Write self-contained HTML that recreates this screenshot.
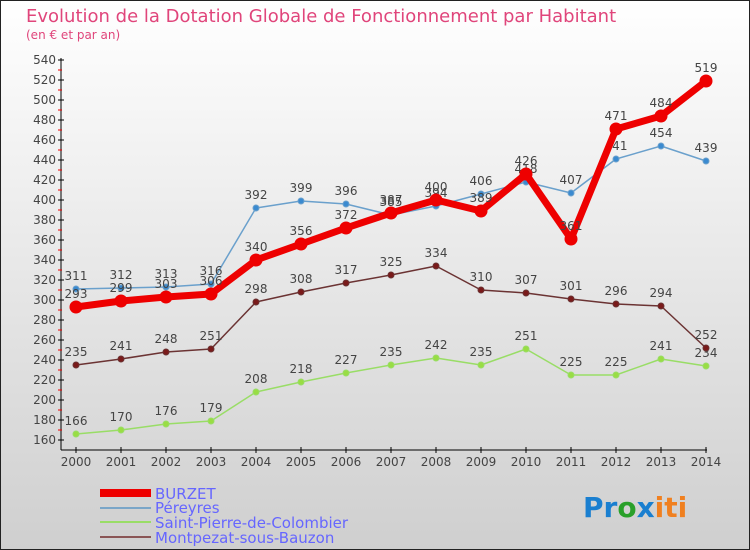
<!DOCTYPE html>
<html><head><meta charset="utf-8"><style>
body{margin:0}
svg{display:block;font-family:"DejaVu Sans","Liberation Sans",sans-serif}
</style></head><body>
<svg id="c" width="750" height="550" viewBox="0 0 750 550" xmlns="http://www.w3.org/2000/svg">
<defs><linearGradient id="bg" x1="0" y1="0" x2="0" y2="1"><stop offset="0" stop-color="#ffffff"/><stop offset="1" stop-color="#cfcfcf"/></linearGradient></defs>
<rect x="0.5" y="0.5" width="749" height="549" fill="url(#bg)" stroke="#222"/>
<text x="26" y="22" font-size="18" fill="#e0457b">Evolution de la Dotation Globale de Fonctionnement par Habitant</text>
<text x="26" y="39" font-size="12" fill="#e0457b">(en € et par an)</text>
<g id="axes"></g><g id="series"></g>
<g font-size="15" fill="#6666ff">
<rect x="100" y="489" width="51" height="8" fill="#ee0000"/>
<text x="155" y="499">BURZET</text>
<line x1="100" y1="508" x2="151" y2="508" stroke="#7aa6c8" stroke-width="2"/>
<text x="155" y="513">Péreyres</text>
<line x1="100" y1="522" x2="151" y2="522" stroke="#99dd66" stroke-width="2"/>
<text x="155" y="528">Saint-Pierre-de-Colombier</text>
<line x1="100" y1="537" x2="151" y2="537" stroke="#8a5555" stroke-width="2"/>
<text x="155" y="543">Montpezat-sous-Bauzon</text>
</g>
<text x="583" y="517" font-size="28" font-weight="bold"><tspan fill="#1a7fd0">Pr</tspan><tspan fill="#2aa02a">o</tspan><tspan fill="#1a7fd0">x</tspan><tspan fill="#f08020">iti</tspan></text>
</svg>
<script>
const years=[2000,2001,2002,2003,2004,2005,2006,2007,2008,2009,2010,2011,2012,2013,2014];
const yTicks=[160,180,200,220,240,260,280,300,320,340,360,380,400,420,440,460,480,500,520,540];
const burzet=[293,299,303,306,340,356,372,387,400,389,426,361,471,484,519];
const pereyres=[311,312,313,316,392,399,396,385,394,406,418,407,441,454,439];
const saintPierre=[166,170,176,179,208,218,227,235,242,235,251,225,225,241,234];
const montpezat=[235,241,248,251,298,308,317,325,334,310,307,301,296,294,252];
const NS="http://www.w3.org/2000/svg";
const X=i=>76+i*(706-76)/(years.length-1);
const Y=v=>440-(v-160)*(380/380);
function mk(t,a,p){const e=document.createElementNS(NS,t);for(const k in a)e.setAttribute(k,a[k]);p.appendChild(e);return e;}
const ax=document.getElementById('axes');
const ya=mk('line',{x1:61,y1:58,x2:61,y2:450,stroke:'#000'},ax);


const xa=mk('line',{x1:61,y1:450,x2:707,y2:450,stroke:'#000'},ax);


yTicks.forEach(v=>{
 mk('line',{x1:58,y1:Y(v),x2:64,y2:Y(v),stroke:'#000'},ax);
 if(v<540)mk('line',{x1:58,y1:Y(v+10),x2:62,y2:Y(v+10),stroke:'#e00'},ax);
 const t=mk('text',{x:56,y:Y(v)+4,'text-anchor':'end','font-size':12,fill:'#444'},ax);
 
 
 t.textContent=v;
});
years.forEach((y,i)=>{
 mk('line',{x1:X(i),y1:447,x2:X(i),y2:453,stroke:'#000'},ax);
 const t=mk('text',{x:X(i),y:466,'text-anchor':'middle','font-size':12,fill:'#444'},ax);
 
 
 t.textContent=y;
});
const sg=document.getElementById('series');
function series(d,name,col,w,r,fill,labelCol){
 const g=mk('g',{},sg);
 
 
 mk('polyline',{points:d.map((v,i)=>X(i)+','+Y(v)).join(' '),fill:'none',stroke:col,'stroke-width':w,'stroke-linejoin':'round'},g);
 d.forEach((v,i)=>{
  const c=mk('circle',{cx:X(i),cy:Y(v),r:r,fill:fill,stroke:col,'stroke-width':1},g);
  
  
  const t=mk('text',{x:X(i),y:Y(v)-9,'text-anchor':'middle','font-size':12,fill:'#444'},g);
  
  
  t.textContent=v;
 });
}
series(saintPierre,'saint-pierre-series','#99dd66',1.5,3,'#99dd44');
series(montpezat,'montpezat-series','#6b3333',1.5,3,'#7a1a1a');
series(pereyres,'pereyres-series','#6aa0cc',1.5,3,'#3a8ad0');
series(burzet,'burzet-series','#ee0000',7,6,'#ee0000');
</script>
</body></html>
